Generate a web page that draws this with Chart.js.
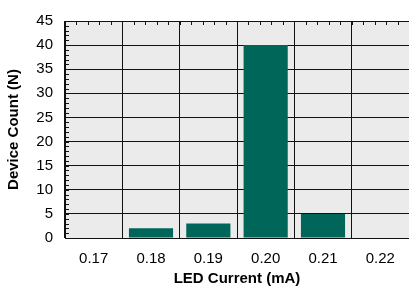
<!DOCTYPE html>
<html>
<head>
<meta charset="utf-8">
<script src="https://cdn.jsdelivr.net/npm/chart.js@4.4.1/dist/chart.umd.min.js"></script>
<style>
  html, body { margin: 0; padding: 0; background: #fff; }
  #wrap { width: 409px; height: 290px; }
</style>
</head>
<body>
<div id="wrap"><canvas id="myBarChart" width="409" height="290"></canvas></div>
<script>
const currents = ['0.17', '0.18', '0.19', '0.20', '0.21', '0.22'];
const deviceCounts = [0, 2, 3, 40, 5, 0];
const yMin = 0;
const yMax = 45;
const yStep = 5;

// grey plot background + small minor ticks on left and top edges
const plotDecor = {
    id: 'plotDecor',
    beforeDraw(chart) {
        const { ctx, chartArea: a } = chart;
        ctx.save();
        ctx.fillStyle = '#ebebeb';
        ctx.fillRect(a.left, a.top, a.right - a.left, a.bottom - a.top);
        ctx.restore();
    },
    afterDraw(chart) {
        const { ctx, chartArea: a, scales } = chart;
        ctx.save();
        ctx.strokeStyle = '#111';
        ctx.lineWidth = 1;
        ctx.beginPath();
        for (let v = yMin; v <= yMax; v++) {
            const y = Math.round(scales.y.getPixelForValue(v)) + 0.5;
            ctx.moveTo(a.left, y);
            ctx.lineTo(a.left + 4, y);
        }
        const n = currents.length;
        const w = (a.right - a.left) / n;
        for (let i = 0; i <= n * 5; i++) {
            const x = Math.round(a.left + i * w / 5) + 0.5;
            ctx.moveTo(x, a.top);
            ctx.lineTo(x, a.top + 4);
        }
        ctx.stroke();
        ctx.restore();
    }
};

new Chart(document.getElementById('myBarChart'), {
    type: 'bar',
    data: {
        labels: currents,
        datasets: [{
            label: 'Device Count',
            data: deviceCounts,
            backgroundColor: '#00665a',
            borderWidth: 0,
            barPercentage: 0.77,
            categoryPercentage: 1.0
        }]
    },
    options: {
        responsive: false,
        animation: false,
        layout: { padding: { top: 8, right: 0, left: 0, bottom: 0 } },
        plugins: {
            legend: { display: false },
            tooltip: { enabled: false }
        },
        scales: {
            x: {
                offset: true,
                grid: { color: '#111', lineWidth: 1, offset: true, drawTicks: false },
                border: { color: '#111', width: 1 },
                ticks: {
                    color: '#000',
                    padding: 12,
                    font: { family: 'Liberation Sans, Arial, sans-serif', size: 15 }
                },
                title: {
                    display: true,
                    text: 'LED Current (mA)',
                    color: '#000',
                    padding: { top: 0, bottom: 2 },
                    font: { family: 'Liberation Sans, Arial, sans-serif', size: 15, weight: 'bold' }
                },
                afterFit(scale) { scale.height = 52; }
            },
            y: {
                min: yMin,
                max: yMax,
                grid: { color: '#111', lineWidth: 1, drawTicks: false },
                border: { color: '#111', width: 1 },
                ticks: {
                    stepSize: yStep,
                    color: '#000',
                    padding: 12,
                    font: { family: 'Liberation Sans, Arial, sans-serif', size: 15 }
                },
                title: {
                    display: true,
                    text: 'Device Count (N)',
                    color: '#000',
                    padding: { top: 5, bottom: 0 },
                    font: { family: 'Liberation Sans, Arial, sans-serif', size: 15, weight: 'bold' }
                },
                afterFit(scale) { scale.width = 65; }
            }
        }
    },
    plugins: [plotDecor]
});
</script>
</body>
</html>
